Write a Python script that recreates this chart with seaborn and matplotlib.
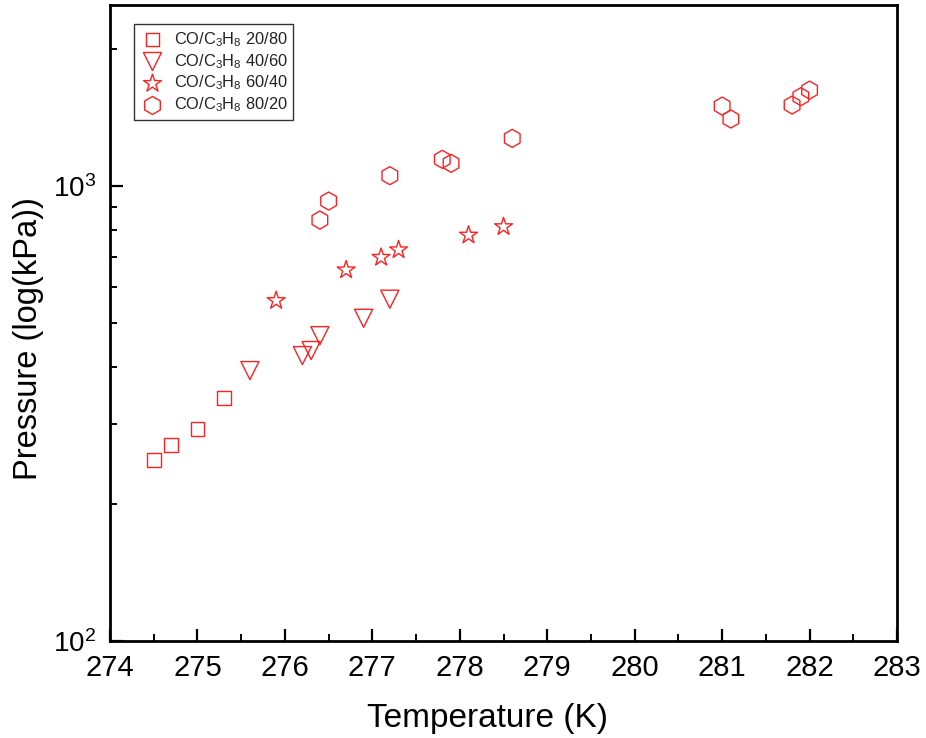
import matplotlib
matplotlib.use("Agg")
import matplotlib.pyplot as plt
import seaborn as sns
import pandas as pd
import numpy as np
from matplotlib.ticker import LogLocator, FixedLocator, MultipleLocator, NullFormatter

# ---- data ----
t_20_80 = [274.50, 274.70, 275.00, 275.30]
p_20_80 = [250, 270, 292, 342]

t_40_60 = [275.60, 276.20, 276.30, 276.40, 276.90, 277.20]
p_40_60 = [393, 424, 435, 469, 512, 564]

t_60_40 = [275.90, 276.70, 277.10, 277.30, 278.10, 278.50]
p_60_40 = [560, 654, 697, 724, 780, 814]

t_80_20 = [276.40, 276.50, 277.20, 277.80, 277.90, 278.60, 281.00, 281.10, 281.80, 281.90, 282.00]
p_80_20 = [842, 927, 1054, 1145, 1122, 1273, 1499, 1404, 1507, 1572, 1625]

labels = [r"CO/C$_3$H$_8$ 20/80", r"CO/C$_3$H$_8$ 40/60",
          r"CO/C$_3$H$_8$ 60/40", r"CO/C$_3$H$_8$ 80/20"]
x_ticks = [274, 275, 276, 277, 278, 279, 280, 281, 282, 283]
y_ticks = [100, 1000]
y_ticklabels = [r"$\mathregular{10^{2}}$", r"$\mathregular{10^{3}}$"]

sns.set_theme(style="white")
plt.rcParams["font.family"] = ["Liberation Sans", "DejaVu Sans"]
plt.rcParams["mathtext.fontset"] = "custom"
plt.rcParams["mathtext.rm"] = "Liberation Sans"
plt.rcParams["mathtext.it"] = "Liberation Sans:italic"
plt.rcParams["mathtext.bf"] = "Liberation Sans:bold"
plt.rcParams["text.color"] = "black"
plt.rcParams["axes.labelcolor"] = "black"
plt.rcParams["xtick.color"] = "black"
plt.rcParams["ytick.color"] = "black"

fig = plt.figure(figsize=(9.26, 7.38), dpi=100)
ax = fig.add_axes([0.1188, 0.1314, 0.8499, 0.8618])

series = [
    (t_20_80, p_20_80, "s", 10.0),
    (t_40_60, p_40_60, "v", 13.0),
    (t_60_40, p_60_40, "*", 13.5),
    (t_80_20, p_80_20, "h", 13.0),
]
for (t, p, m, ms), lab in zip(series, labels):
    df = pd.DataFrame({"T": t, "P": p})
    sns.scatterplot(data=df, x="T", y="P", marker=m, s=ms ** 2,
                    facecolor="none", edgecolor="#ff2020", linewidth=1.0,
                    label=lab, ax=ax, zorder=3)

ax.set_yscale("log")
ax.set_xlim(274, 283)
ax.set_ylim(100, 2500)

ax.xaxis.set_major_locator(FixedLocator(x_ticks))
ax.xaxis.set_minor_locator(MultipleLocator(0.5))
ax.set_xticklabels([str(v) for v in x_ticks], fontsize=21)

ax.yaxis.set_major_locator(FixedLocator(y_ticks))
ax.set_yticklabels(y_ticklabels, fontsize=20)
ax.yaxis.set_minor_locator(LogLocator(base=10, subs=np.arange(2, 10)))
ax.yaxis.set_minor_formatter(NullFormatter())

ax.tick_params(axis="x", which="major", pad=9)
ax.tick_params(axis="y", which="major", pad=10)
ax.tick_params(axis="both", which="major", direction="in", length=9, width=1.6,
               colors="black", bottom=True, left=True, top=False, right=False)
ax.tick_params(axis="both", which="minor", direction="in", length=5, width=1.4,
               bottom=True, left=True, top=False, right=False)

for sp in ax.spines.values():
    sp.set_color("black")
    sp.set_linewidth(2.0)

ax.set_xlabel("Temperature (K)", fontsize=24, color="black")
ax.xaxis.set_label_coords(0.48, -0.097)
ax.set_ylabel("Pressure (log(kPa))", fontsize=23.5, color="black")
ax.yaxis.set_label_coords(-0.084, 0.475)
ax.grid(False)

leg = ax.legend(loc="upper left", bbox_to_anchor=(0.030, 0.970), fontsize=11.8,
                frameon=True, fancybox=False, shadow=False, borderpad=0.35,
                labelspacing=0.2, handletextpad=0.5, handlelength=1.6,
                borderaxespad=0.0)
leg.get_frame().set_edgecolor("black")
leg.get_frame().set_linewidth(1.0)
for txt in leg.get_texts():
    txt.set_color("#222222")

fig.savefig("out.png", dpi=100)
